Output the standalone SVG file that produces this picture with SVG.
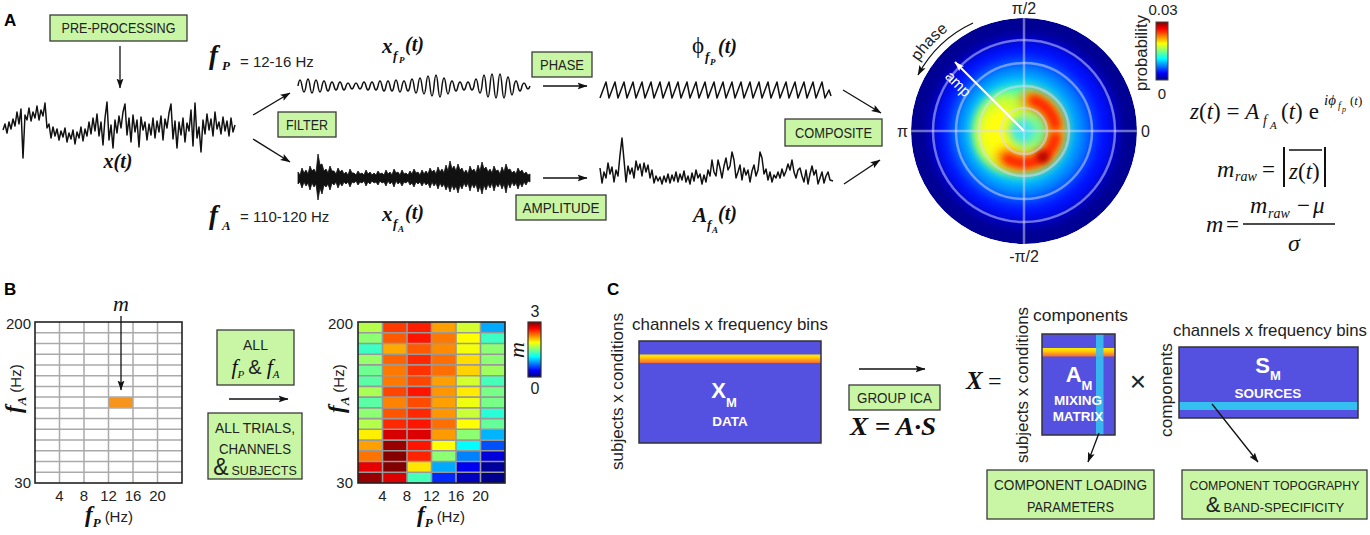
<svg xmlns="http://www.w3.org/2000/svg" width="1370" height="535" viewBox="0 0 1370 535">
<style>
.box{fill:#c9f6a4;stroke:#3a3a3a;stroke-width:1.3}
.bt{font-family:"Liberation Sans",Arial,sans-serif;fill:#222;text-anchor:middle}
.ax{font-family:"Liberation Sans",Arial,sans-serif;fill:#222}
.lab{font-family:"Liberation Sans",Arial,sans-serif;font-weight:bold;font-size:17px;fill:#000}
.mb{font-family:"Liberation Serif","Times New Roman",serif;font-weight:bold;font-style:italic;fill:#111}
.mi{font-family:"Liberation Serif","Times New Roman",serif;font-style:italic;fill:#111}
.mn{font-family:"Liberation Serif","Times New Roman",serif;fill:#111}
.ln{stroke:#111;stroke-width:1.3;fill:none}
.sig{stroke:#111;stroke-width:1.5;fill:none;stroke-linejoin:round}
.wt{font-family:"Liberation Sans",Arial,sans-serif;font-weight:bold;fill:#fff;text-anchor:middle}
.mat{fill:#5450e0;stroke:#333;stroke-width:1.5}
.grid{stroke:#aaa;stroke-width:1.5;fill:none}
.hgrid{stroke:#999;stroke-width:1.6;fill:none}
.ring{stroke:#dcdcff;stroke-opacity:0.5;stroke-width:2.5;fill:none}
</style>
<defs>
<marker id="ah" viewBox="0 0 10 8" markerWidth="10" markerHeight="8" refX="9.5" refY="4" orient="auto" markerUnits="userSpaceOnUse"><path d="M0,0.5 L10,4 L0,7.5 L2,4 z" fill="#111"/></marker>
<marker id="ahw" viewBox="0 0 10 8" markerWidth="10" markerHeight="8" refX="9.5" refY="4" orient="auto" markerUnits="userSpaceOnUse"><path d="M0,0.5 L10,4 L0,7.5 L2,4 z" fill="#fff"/></marker>
<linearGradient id="jet" x1="0" y1="0" x2="0" y2="1">
<stop offset="0" stop-color="#800000"/><stop offset="0.12" stop-color="#ff0000"/><stop offset="0.37" stop-color="#ffff00"/><stop offset="0.5" stop-color="#80ff80"/><stop offset="0.63" stop-color="#00ffff"/><stop offset="0.88" stop-color="#0000ff"/><stop offset="1" stop-color="#000080"/>
</linearGradient>
<linearGradient id="stripe" x1="0" y1="0" x2="0" y2="1">
<stop offset="0" stop-color="#ffee00"/><stop offset="0.35" stop-color="#ffd000"/><stop offset="0.65" stop-color="#ff9a20"/><stop offset="1" stop-color="#f26a3a"/>
</linearGradient>
<clipPath id="pc"><circle cx="1024" cy="131" r="113"/></clipPath>
<filter id="b7" x="-50%" y="-50%" width="200%" height="200%"><feGaussianBlur stdDeviation="7"/></filter>
<filter id="b5" x="-50%" y="-50%" width="200%" height="200%"><feGaussianBlur stdDeviation="5"/></filter>
<filter id="b3" x="-50%" y="-50%" width="200%" height="200%"><feGaussianBlur stdDeviation="3"/></filter>
</defs>
<rect x="0" y="0" width="1370" height="535" fill="#fff"/>

<!-- Panel labels -->
<text class="lab" x="4" y="26">A</text>
<text class="lab" x="4" y="295">B</text>
<text class="lab" x="607" y="295">C</text>

<!-- ================= PANEL A ================= -->
<g id="preprocessing">
<rect class="box" x="50" y="15" width="137" height="26"/>
<text class="bt" x="118.5" y="33" font-size="14" textLength="114" lengthAdjust="spacingAndGlyphs">PRE-PROCESSING</text>
</g>
<g id="signal-x">
<path class="sig" d="M3,130 L5,124 7,133 9,122 11,129 13,119 15,126 17,112 19,124 21,109 23,158 25,115 27,120 29,108 31,121 33,112 35,118 37,106 39,120 41,110 43,116 45,103 47,128 49,124 51,138 53,127 55,136 57,129 59,140 61,131 63,137 65,128 67,142 69,133 71,139 73,130 75,144 77,132 79,138 81,127 83,141 85,129 87,136 89,122 91,134 93,118 95,131 97,114 99,136 101,122 103,145 105,118 107,102 109,140 111,125 113,148 115,120 117,133 119,116 121,128 123,112 125,104 127,135 129,118 131,142 133,115 135,132 137,120 139,147 141,117 143,130 145,122 147,140 149,124 151,135 153,118 155,138 157,121 159,132 161,116 163,140 165,119 167,128 169,113 171,104 173,139 175,121 177,148 179,122 181,135 183,118 185,142 187,123 189,131 191,110 193,146 195,103 197,138 199,127 201,152 203,120 205,134 207,114 209,130 211,119 213,136 215,112 217,129 219,122 221,134 223,117 225,131 227,121 229,136 231,118 233,132 235,125"/>
<text class="mb" x="118" y="168" font-size="20" text-anchor="middle">x(t)</text>
</g>
<g id="freq-labels">
<text class="mb" x="209" y="64" font-size="27">f</text>
<text class="mb" x="222" y="70" font-size="13">P</text>
<text class="ax" x="240" y="67" font-size="15">= 12-16 Hz</text>
<text class="mb" x="209" y="224" font-size="27">f</text>
<text class="mb" x="222" y="230" font-size="13">A</text>
<text class="ax" x="240" y="222" font-size="15">= 110-120 Hz</text>
</g>
<g id="filter">
<rect class="box" x="278" y="112" width="58" height="25"/>
<text class="bt" x="307" y="130" font-size="14" textLength="42" lengthAdjust="spacingAndGlyphs">FILTER</text>
</g>
<g id="signal-xfp">
<path class="sig" d="M298,86 q2,-12 4,0 q2,12 4,0 q2,-14 4,0 q2,14 4,0 q2,-12 4,0 q2,12 4,0 q2,-10 4,0 q2,10 4,0 q2,-8 4,0 q2,8 4,0 q2,-8 4,0 q2,8 4,0 q2,-6 4,0 q2,6 4,0 q2,-6 4,0 q2,6 4,0 q2,-8 4,0 q2,8 4,0 q2,-8 4,0 q2,8 4,0 q2,-10 4,0 q2,10 4,0 q2,-10 4,0 q2,10 4,0 q2,-12 4,0 q2,12 4,0 q2,-10 4,0 q2,10 4,0 q2,-14 4,0 q2,14 4,0 q2,-16 4,0 q2,16 4,0 q2,-20 4,0 q2,20 4,0 q2,-22 4,0 q2,22 4,0 q2,-16 4,0 q2,16 4,0 q2,-10 4,0 q2,10 4,0 q2,-8 4,0 q2,8 4,0 q2,-8 4,0 q2,8 4,0 q2,-14 4,0 q2,14 4,0 q2,-22 4,0 q2,22 4,0 q2,-24 4,0 q2,24 4,0 q2,-24 4,0 q2,24 4,0 q2,-18 4,0 q2,18 4,0 q2,-10 4,0 q2,10 4,0 q2,-6 4,0 q2,6 4,0"/>
<text class="mb" x="382" y="53" font-size="21">x</text>
<text class="mb" x="393" y="60" font-size="13">f</text>
<text class="mb" x="399" y="63" font-size="9">P</text>
<text class="mb" x="405" y="51" font-size="20">(t)</text>
</g>
<g id="signal-xfa">
<path fill="#111" stroke="#111" stroke-width="0.8" stroke-linejoin="round" d="M298,172 300,175 302,168 304,173 306,170 308,174 310,166 312,171 314,169 316,173 318,154 320,165 322,164 324,171 326,169 328,173 330,166 332,171 334,171 336,174 338,168 340,172 342,170 344,174 346,172 348,175 350,169 352,173 354,173 356,175 358,171 360,174 362,173 364,175 366,170 368,174 370,172 372,175 374,173 376,175 378,171 380,174 382,173 384,175 386,170 388,174 390,172 392,175 394,169 396,173 398,172 400,175 402,170 404,174 406,173 408,175 410,171 412,174 414,169 416,173 418,172 420,175 422,170 424,174 426,171 428,174 430,168 432,172 434,170 436,174 438,167 440,172 442,169 444,173 446,165 448,171 450,161 452,169 454,166 456,171 458,164 460,170 462,168 464,173 466,170 468,174 470,166 472,171 474,169 476,173 478,165 480,171 482,162 484,169 486,167 488,172 490,169 492,173 494,166 496,171 498,170 500,174 502,167 504,172 506,164 508,170 510,169 512,173 514,171 516,174 518,168 520,172 522,170 524,174 526,172 528,175 530,174 530,182 528,181 526,185 524,182 522,187 520,183 518,189 516,183 514,186 512,182 510,188 508,183 506,193 504,184 502,189 500,183 498,187 496,184 494,191 492,183 490,188 488,184 486,190 484,185 482,194 480,186 478,192 476,184 474,188 472,184 470,191 468,183 466,187 464,183 462,189 460,185 458,193 456,186 454,190 452,185 450,192 448,185 446,190 444,184 442,187 440,183 438,189 436,183 434,186 432,182 430,188 428,183 426,185 424,182 422,186 420,182 418,184 416,182 414,187 412,183 410,185 408,181 406,183 404,182 402,186 400,182 398,184 396,181 394,187 392,182 390,184 388,181 386,186 384,182 382,183 380,181 378,185 376,182 374,183 372,181 370,184 368,182 366,186 364,181 362,183 360,182 358,185 356,181 354,183 352,182 350,187 348,182 346,184 344,182 342,186 340,183 338,188 336,182 334,185 332,183 330,190 328,184 326,187 324,185 322,194 320,188 318,200 316,184 314,187 312,183 310,190 308,183 306,186 304,182 302,188 300,182 298,184 z"/>
<text class="mb" x="382" y="221" font-size="21">x</text>
<text class="mb" x="393" y="228" font-size="13">f</text>
<text class="mb" x="398" y="232" font-size="9">A</text>
<text class="mb" x="405" y="219" font-size="20">(t)</text>
</g>
<g id="phase">
<rect class="box" x="532" y="52" width="60" height="25"/>
<text class="bt" x="562" y="70" font-size="14" textLength="44" lengthAdjust="spacingAndGlyphs">PHASE</text>
</g>
<g id="amplitude">
<rect class="box" x="516" y="195" width="90" height="25"/>
<text class="bt" x="561" y="213" font-size="14" textLength="77" lengthAdjust="spacingAndGlyphs">AMPLITUDE</text>
</g>
<g id="signal-phi">
<path class="sig" d="M600,98 l6,-16 l3,16 l6,-16 l3,16 l6,-16 l3,16 l6,-16 l3,16 l6,-16 l3,16 l6,-16 l3,16 l6,-16 l3,16 l6,-16 l3,16 l6,-16 l3,16 l6,-16 l3,16 l6,-16 l3,16 l6,-16 l3,16 l6,-16 l3,16 l6,-16 l3,16 l6,-16 l3,16 l6,-16 l3,16 l6,-16 l3,16 l6,-16 l3,16 l6,-16 l3,16 l6,-16 l3,16 l6,-16 l3,16 l6,-16 l3,16 l6,-16 l3,16 l6,-16 l3,16 l6,-16 l3,16 l4,-8 l2,6"/>
<text class="mn" x="692" y="53" font-size="23">ϕ</text>
<text class="mb" x="705" y="61" font-size="13">f</text>
<text class="mb" x="710" y="65" font-size="9">P</text>
<text class="mb" x="718" y="53" font-size="20">(t)</text>
</g>
<g id="signal-amp">
<path class="sig" d="M600,168 L602,183 604,172 606,178 608,163 610,174 612,167 614,182 616,170 618,176 620,155 622,138 624,160 626,182 628,166 630,174 632,168 634,178 636,161 638,170 640,164 642,176 644,163 646,172 648,165 650,178 652,170 654,183 656,176 658,181 660,177 662,184 664,176 666,182 668,174 670,183 672,175 674,181 676,172 678,182 680,174 682,180 684,171 686,182 688,176 690,184 692,173 694,181 696,170 698,178 700,174 702,184 704,175 706,182 708,170 710,176 712,160 714,172 716,176 718,160 720,168 722,178 724,166 726,158 728,170 730,166 732,152 734,160 736,178 738,172 740,165 742,180 744,168 746,175 748,170 750,182 752,171 754,165 756,176 758,170 760,152 762,158 764,174 766,169 768,180 770,172 772,182 774,175 776,178 778,172 780,178 782,169 784,176 786,171 788,164 790,170 792,160 794,172 796,178 798,170 800,168 802,176 804,182 806,170 808,184 810,174 812,166 814,175 816,170 818,184 820,178 822,172 824,183 826,176 828,172 830,180 833,181"/>
<text class="mb" x="693" y="222" font-size="21">A</text>
<text class="mb" x="707" y="229" font-size="13">f</text>
<text class="mb" x="712" y="233" font-size="9">A</text>
<text class="mb" x="718" y="220" font-size="20">(t)</text>
</g>
<g id="composite">
<rect class="box" x="785" y="119" width="97" height="27"/>
<text class="bt" x="833.5" y="138" font-size="14" textLength="77" lengthAdjust="spacingAndGlyphs">COMPOSITE</text>
</g>

<g id="polar-plot">
<g clip-path="url(#pc)">
<circle cx="1024" cy="131" r="113" fill="#000092"/>
<circle cx="1024" cy="131" r="92" fill="#0008ff" filter="url(#b7)"/>
<circle cx="1022" cy="131" r="72" fill="#0070ff" filter="url(#b7)"/>
<circle cx="1020" cy="131" r="58" fill="#00c4ff" filter="url(#b7)"/>
<circle cx="1020" cy="131" r="46" fill="#50ffb0" filter="url(#b5)"/>
<ellipse cx="1006" cy="132" rx="32" ry="38" fill="#c8ff38" filter="url(#b5)"/>
<ellipse cx="1001" cy="134" rx="20" ry="27" fill="#ffff10" filter="url(#b5)"/>
<path d="M1029.6,99.5 A32,32 0 1 1 1005.6,157.2" stroke="#ff9a00" stroke-width="20" fill="none" stroke-linecap="round" filter="url(#b5)"/>
<path d="M1033.9,100.6 A32,32 0 0 1 1055.3,124.3" stroke="#ff2800" stroke-width="11" fill="none" stroke-linecap="round" filter="url(#b3)"/>
<path d="M1055.3,137.7 A32,32 0 0 1 1008,158.7" stroke="#ff2800" stroke-width="11" fill="none" stroke-linecap="round" filter="url(#b3)"/>
<circle cx="1043" cy="157" r="6" fill="#b00000" filter="url(#b3)"/>
<circle cx="1023" cy="131" r="14" fill="#40e8e8" filter="url(#b5)"/>
</g>
<circle class="ring" cx="1024" cy="131" r="23"/>
<circle class="ring" cx="1024" cy="131" r="45"/>
<circle class="ring" cx="1024" cy="131" r="68"/>
<circle class="ring" cx="1024" cy="131" r="91"/>
<path class="ring" d="M911,131 H1137 M1024,18 V244"/>
<line x1="1024" y1="131" x2="955" y2="62" stroke="#fff" stroke-width="2" marker-end="url(#ahw)"/>
<text x="958" y="89" transform="rotate(45 958 84)" font-family="Liberation Sans, Arial, sans-serif" font-size="15" fill="#fff" text-anchor="middle">amp</text>
<path d="M973,23 A120,120 0 0 0 918,75" class="ln" marker-end="url(#ah)"/>
<path id="phasearc" d="M902.3,98.4 A126,126 0 0 1 1013,5.5" fill="none"/>
<text font-family="Liberation Sans, Arial, sans-serif" font-size="16" fill="#222"><textPath href="#phasearc" startOffset="62" text-anchor="middle">phase</textPath></text>
<text class="ax" x="1024" y="14" font-size="16" text-anchor="middle">π/2</text>
<text class="ax" x="1024" y="262" font-size="16" text-anchor="middle">-π/2</text>
<text class="ax" x="897" y="137" font-size="16">π</text>
<text class="ax" x="1141" y="137" font-size="16">0</text>
<rect x="1156" y="22" width="12" height="58" fill="url(#jet)" stroke="#444" stroke-width="1"/>
<text class="ax" x="1163" y="15" font-size="15" text-anchor="middle">0.03</text>
<text class="ax" x="1162" y="99" font-size="15" text-anchor="middle">0</text>
<text class="ax" transform="translate(1147,91) rotate(-90)" font-size="16" textLength="76" lengthAdjust="spacingAndGlyphs">probability</text>
</g>

<g id="formulas">
<text class="mn" x="1190" y="119" font-size="23"><tspan class="mi">z</tspan>(<tspan class="mi">t</tspan>) = <tspan class="mi">A</tspan></text>
<text class="mi" x="1263" y="125" font-size="14">f</text>
<text class="mi" x="1270" y="129" font-size="11">A</text>
<text class="mn" x="1281" y="119" font-size="23">(<tspan class="mi">t</tspan>)<tspan dx="6">e</tspan></text>
<text class="mi" x="1324" y="105" font-size="15">iϕ</text>
<text class="mi" x="1338" y="109" font-size="10">f</text>
<text class="mi" x="1342" y="112" font-size="8">p</text>
<text class="mn" x="1350" y="105" font-size="13">(<tspan class="mi">t</tspan>)</text>
<text class="mi" x="1217" y="177" font-size="24">m</text>
<text class="mi" x="1235" y="181" font-size="14">raw</text>
<text class="mn" x="1262" y="177" font-size="23">=</text>
<path d="M1284,147 V187 M1325,147 V187" stroke="#111" stroke-width="2" fill="none"/>
<path d="M1289,150 H1322" stroke="#111" stroke-width="1.4" fill="none"/>
<text class="mn" x="1289" y="179" font-size="23"><tspan class="mi">z</tspan>(<tspan class="mi">t</tspan>)</text>
<text class="mi" x="1206" y="232" font-size="24">m</text>
<text class="mn" x="1226" y="232" font-size="23">=</text>
<path d="M1243,224 H1335" stroke="#111" stroke-width="1.5" fill="none"/>
<text class="mi" x="1250" y="213" font-size="24">m</text>
<text class="mi" x="1268" y="218" font-size="14">raw</text>
<text class="mn" x="1297" y="213" font-size="23">−</text>
<text class="mi" x="1313" y="213" font-size="23">μ</text>
<text class="mi" x="1288" y="251" font-size="24">σ</text>
</g>

<!-- ================= PANEL B ================= -->
<g id="grid-single">
<rect x="35" y="322" width="147" height="161" fill="#fff"/>
<rect x="108.5" y="397.1" width="24.5" height="10.8" fill="#f7941d"/>
<path class="grid" d="M35,332.7H182 M35,343.5H182 M35,354.2H182 M35,364.9H182 M35,375.7H182 M35,386.4H182 M35,397.1H182 M35,407.9H182 M35,418.6H182 M35,429.3H182 M35,440.1H182 M35,450.8H182 M35,461.5H182 M35,472.3H182 M59.5,322V483 M84,322V483 M108.5,322V483 M133,322V483 M157.5,322V483"/>
<rect x="35" y="322" width="147" height="161" fill="none" stroke="#222" stroke-width="1.6"/>
<text class="mi" x="121" y="311" font-size="22" text-anchor="middle">m</text>
<text class="ax" x="31" y="329" font-size="15" text-anchor="end">200</text>
<text class="ax" x="31" y="488" font-size="15" text-anchor="end">30</text>
<g class="ax" font-size="15" text-anchor="middle">
<text x="59.5" y="501">4</text><text x="84" y="501">8</text><text x="108.5" y="501">12</text><text x="133" y="501">16</text><text x="157.5" y="501">20</text>
</g>
<text x="85" y="522"><tspan class="mb" font-size="23">f</tspan><tspan class="mb" font-size="13" dy="5">P</tspan><tspan class="ax" font-size="15" dy="-5" dx="4">(Hz)</tspan></text>
<text transform="translate(21,413) rotate(-90)"><tspan class="mb" font-size="23">f</tspan><tspan class="mb" font-size="13" dy="5">A</tspan><tspan class="ax" font-size="15" dy="-5" dx="4">(Hz)</tspan></text>
</g>
<g id="all-fp-fa">
<rect class="box" x="217" y="330" width="77" height="55"/>
<text class="bt" x="255.5" y="350" font-size="14">ALL</text>
<text class="bt" x="255.5" y="374" font-size="14"><tspan class="mi" font-size="22">f</tspan><tspan class="mi" font-size="11" dy="4">P</tspan><tspan font-size="20" dy="-4" dx="4">&amp;</tspan><tspan class="mi" font-size="22" dx="5">f</tspan><tspan class="mi" font-size="11" dy="4">A</tspan></text>
</g>
<g id="all-trials">
<rect class="box" x="208" y="413" width="94" height="66"/>
<text class="bt" x="255" y="433" font-size="14" textLength="80" lengthAdjust="spacingAndGlyphs">ALL TRIALS,</text>
<text class="bt" x="255" y="454" font-size="14" textLength="72" lengthAdjust="spacingAndGlyphs">CHANNELS</text>
<text class="bt" x="255" y="475" font-size="14"><tspan font-size="23">&amp;</tspan><tspan font-size="12.5" dx="3">SUBJECTS</tspan></text>
</g>
<g id="heatmap">
<rect x="358" y="322" width="24.5" height="10.8" fill="#b5ff4a"/><rect x="382.5" y="322" width="24.5" height="10.8" fill="#ff3c00"/><rect x="407" y="322" width="24.5" height="10.8" fill="#ff1e00"/><rect x="431.5" y="322" width="24.5" height="10.8" fill="#ffa000"/><rect x="456" y="322" width="24.5" height="10.8" fill="#d2ff2d"/><rect x="480.5" y="322" width="24.5" height="10.8" fill="#00aaff"/>
<rect x="358" y="332.7" width="24.5" height="10.8" fill="#8cff73"/><rect x="382.5" y="332.7" width="24.5" height="10.8" fill="#ff5a00"/><rect x="407" y="332.7" width="24.5" height="10.8" fill="#ff1400"/><rect x="431.5" y="332.7" width="24.5" height="10.8" fill="#ff7800"/><rect x="456" y="332.7" width="24.5" height="10.8" fill="#ffff00"/><rect x="480.5" y="332.7" width="24.5" height="10.8" fill="#3cffc3"/>
<rect x="358" y="343.5" width="24.5" height="10.8" fill="#3cffc3"/><rect x="382.5" y="343.5" width="24.5" height="10.8" fill="#ffaa00"/><rect x="407" y="343.5" width="24.5" height="10.8" fill="#ff5a00"/><rect x="431.5" y="343.5" width="24.5" height="10.8" fill="#ff8c00"/><rect x="456" y="343.5" width="24.5" height="10.8" fill="#f5ff0a"/><rect x="480.5" y="343.5" width="24.5" height="10.8" fill="#8cff73"/>
<rect x="358" y="354.2" width="24.5" height="10.8" fill="#96ff69"/><rect x="382.5" y="354.2" width="24.5" height="10.8" fill="#ff6400"/><rect x="407" y="354.2" width="24.5" height="10.8" fill="#ff2800"/><rect x="431.5" y="354.2" width="24.5" height="10.8" fill="#ff6e00"/><rect x="456" y="354.2" width="24.5" height="10.8" fill="#ffdc00"/><rect x="480.5" y="354.2" width="24.5" height="10.8" fill="#8cff73"/>
<rect x="358" y="364.9" width="24.5" height="10.8" fill="#6eff91"/><rect x="382.5" y="364.9" width="24.5" height="10.8" fill="#ff7800"/><rect x="407" y="364.9" width="24.5" height="10.8" fill="#ff3200"/><rect x="431.5" y="364.9" width="24.5" height="10.8" fill="#ff6e00"/><rect x="456" y="364.9" width="24.5" height="10.8" fill="#ffd200"/><rect x="480.5" y="364.9" width="24.5" height="10.8" fill="#a0ff5f"/>
<rect x="358" y="375.7" width="24.5" height="10.8" fill="#5affa5"/><rect x="382.5" y="375.7" width="24.5" height="10.8" fill="#ff7800"/><rect x="407" y="375.7" width="24.5" height="10.8" fill="#ff4600"/><rect x="431.5" y="375.7" width="24.5" height="10.8" fill="#ffa000"/><rect x="456" y="375.7" width="24.5" height="10.8" fill="#d2ff2d"/><rect x="480.5" y="375.7" width="24.5" height="10.8" fill="#46ffb9"/>
<rect x="358" y="386.4" width="24.5" height="10.8" fill="#aaff55"/><rect x="382.5" y="386.4" width="24.5" height="10.8" fill="#ff4600"/><rect x="407" y="386.4" width="24.5" height="10.8" fill="#ff1400"/><rect x="431.5" y="386.4" width="24.5" height="10.8" fill="#ff9600"/><rect x="456" y="386.4" width="24.5" height="10.8" fill="#ffeb00"/><rect x="480.5" y="386.4" width="24.5" height="10.8" fill="#78ff87"/>
<rect x="358" y="397.1" width="24.5" height="10.8" fill="#5affa5"/><rect x="382.5" y="397.1" width="24.5" height="10.8" fill="#ff8200"/><rect x="407" y="397.1" width="24.5" height="10.8" fill="#ff4b00"/><rect x="431.5" y="397.1" width="24.5" height="10.8" fill="#ffa000"/><rect x="456" y="397.1" width="24.5" height="10.8" fill="#f0ff0f"/><rect x="480.5" y="397.1" width="24.5" height="10.8" fill="#78ff87"/>
<rect x="358" y="407.9" width="24.5" height="10.8" fill="#8cff73"/><rect x="382.5" y="407.9" width="24.5" height="10.8" fill="#ff5500"/><rect x="407" y="407.9" width="24.5" height="10.8" fill="#ff2800"/><rect x="431.5" y="407.9" width="24.5" height="10.8" fill="#ff9600"/><rect x="456" y="407.9" width="24.5" height="10.8" fill="#c8ff37"/><rect x="480.5" y="407.9" width="24.5" height="10.8" fill="#28ffd7"/>
<rect x="358" y="418.6" width="24.5" height="10.8" fill="#b4ff4b"/><rect x="382.5" y="418.6" width="24.5" height="10.8" fill="#ff2800"/><rect x="407" y="418.6" width="24.5" height="10.8" fill="#ff1400"/><rect x="431.5" y="418.6" width="24.5" height="10.8" fill="#ff6e00"/><rect x="456" y="418.6" width="24.5" height="10.8" fill="#ffff00"/><rect x="480.5" y="418.6" width="24.5" height="10.8" fill="#64ff9b"/>
<rect x="358" y="429.3" width="24.5" height="10.8" fill="#fff000"/><rect x="382.5" y="429.3" width="24.5" height="10.8" fill="#d70000"/><rect x="407" y="429.3" width="24.5" height="10.8" fill="#dc0000"/><rect x="431.5" y="429.3" width="24.5" height="10.8" fill="#ff9b00"/><rect x="456" y="429.3" width="24.5" height="10.8" fill="#8cff73"/><rect x="480.5" y="429.3" width="24.5" height="10.8" fill="#00b4ff"/>
<rect x="358" y="440.1" width="24.5" height="10.8" fill="#ffa000"/><rect x="382.5" y="440.1" width="24.5" height="10.8" fill="#9b0000"/><rect x="407" y="440.1" width="24.5" height="10.8" fill="#ff1400"/><rect x="431.5" y="440.1" width="24.5" height="10.8" fill="#ffff00"/><rect x="456" y="440.1" width="24.5" height="10.8" fill="#00ffff"/><rect x="480.5" y="440.1" width="24.5" height="10.8" fill="#0050ff"/>
<rect x="358" y="450.8" width="24.5" height="10.8" fill="#ff7300"/><rect x="382.5" y="450.8" width="24.5" height="10.8" fill="#870000"/><rect x="407" y="450.8" width="24.5" height="10.8" fill="#ff2300"/><rect x="431.5" y="450.8" width="24.5" height="10.8" fill="#8cff73"/><rect x="456" y="450.8" width="24.5" height="10.8" fill="#0082ff"/><rect x="480.5" y="450.8" width="24.5" height="10.8" fill="#0000dc"/>
<rect x="358" y="461.5" width="24.5" height="10.8" fill="#e60000"/><rect x="382.5" y="461.5" width="24.5" height="10.8" fill="#820000"/><rect x="407" y="461.5" width="24.5" height="10.8" fill="#ffe600"/><rect x="431.5" y="461.5" width="24.5" height="10.8" fill="#00aaff"/><rect x="456" y="461.5" width="24.5" height="10.8" fill="#0000f0"/><rect x="480.5" y="461.5" width="24.5" height="10.8" fill="#00009b"/>
<rect x="358" y="472.3" width="24.5" height="10.7" fill="#960000"/><rect x="382.5" y="472.3" width="24.5" height="10.7" fill="#dc0000"/><rect x="407" y="472.3" width="24.5" height="10.7" fill="#46ffb9"/><rect x="431.5" y="472.3" width="24.5" height="10.7" fill="#0028ff"/><rect x="456" y="472.3" width="24.5" height="10.7" fill="#0000be"/><rect x="480.5" y="472.3" width="24.5" height="10.7" fill="#00008c"/>
<path class="hgrid" d="M358,332.7H505 M358,343.5H505 M358,354.2H505 M358,364.9H505 M358,375.7H505 M358,386.4H505 M358,397.1H505 M358,407.9H505 M358,418.6H505 M358,429.3H505 M358,440.1H505 M358,450.8H505 M358,461.5H505 M358,472.3H505 M382.5,322V483 M407,322V483 M431.5,322V483 M456,322V483 M480.5,322V483"/>
<rect x="358" y="322" width="147" height="161" fill="none" stroke="#222" stroke-width="1.6"/>
<text class="ax" x="353" y="329" font-size="15" text-anchor="end">200</text>
<text class="ax" x="353" y="488" font-size="15" text-anchor="end">30</text>
<g class="ax" font-size="15" text-anchor="middle">
<text x="382.5" y="501">4</text><text x="407" y="501">8</text><text x="431.5" y="501">12</text><text x="456" y="501">16</text><text x="480.5" y="501">20</text>
</g>
<text x="417" y="522"><tspan class="mb" font-size="23">f</tspan><tspan class="mb" font-size="13" dy="5">P</tspan><tspan class="ax" font-size="15" dy="-5" dx="4">(Hz)</tspan></text>
<text transform="translate(344,413) rotate(-90)"><tspan class="mb" font-size="23">f</tspan><tspan class="mb" font-size="13" dy="5">A</tspan><tspan class="ax" font-size="15" dy="-5" dx="4">(Hz)</tspan></text>
<rect x="528" y="322" width="13" height="55" fill="url(#jet)" stroke="#333" stroke-width="1.2"/>
<text class="ax" x="535" y="317" font-size="16" text-anchor="middle">3</text>
<text class="ax" x="535" y="394" font-size="16" text-anchor="middle">0</text>
<text class="mi" transform="translate(524,358) rotate(-90)" font-size="22">m</text>
</g>

<!-- ================= PANEL C ================= -->
<g id="data-matrix">
<text class="ax" x="632" y="330" font-size="17" textLength="196" lengthAdjust="spacingAndGlyphs">channels x frequency bins</text>
<text class="ax" transform="translate(623,470) rotate(-90)" font-size="17" textLength="157" lengthAdjust="spacingAndGlyphs">subjects x conditions</text>
<rect class="mat" x="639" y="341" width="182" height="102"/>
<rect x="639.8" y="354.5" width="180.4" height="8.5" fill="url(#stripe)"/>
<text class="wt" x="724" y="398" font-size="22">X<tspan font-size="13" dy="9">M</tspan></text>
<text class="wt" x="730" y="426" font-size="13.5">DATA</text>
</g>
<g id="group-ica">
<rect class="box" x="849" y="385" width="91" height="25"/>
<text class="bt" x="894.5" y="403" font-size="14" textLength="75" lengthAdjust="spacingAndGlyphs">GROUP ICA</text>
<text class="mb" x="850" y="435" font-size="26" textLength="86" lengthAdjust="spacingAndGlyphs">X = A·S</text>
</g>
<g id="mixing-matrix">
<text class="mb" x="966" y="389" font-size="25">X</text>
<text class="mn" x="988" y="389" font-size="24">=</text>
<text class="ax" transform="translate(1028,463) rotate(-90)" font-size="17" textLength="156" lengthAdjust="spacingAndGlyphs">subjects x conditions</text>
<text class="ax" x="1033" y="321" font-size="17" textLength="95" lengthAdjust="spacingAndGlyphs">components</text>
<rect class="mat" x="1042" y="334" width="73" height="101"/>
<rect x="1042.8" y="348" width="71.4" height="8.5" fill="url(#stripe)"/>
<rect x="1096" y="334.8" width="7.5" height="99.4" fill="#35bff0" fill-opacity="0.9"/>
<text class="wt" x="1079" y="382" font-size="22">A<tspan font-size="13" dy="8">M</tspan></text>
<text class="wt" x="1078" y="405" font-size="13.5">MIXING</text>
<text class="wt" x="1078" y="421" font-size="13.5">MATRIX</text>
</g>
<text class="ax" x="1138" y="391" font-size="28" text-anchor="middle">×</text>
<g id="sources-matrix">
<text class="ax" x="1173" y="336" font-size="17" textLength="194" lengthAdjust="spacingAndGlyphs">channels x frequency bins</text>
<text class="ax" transform="translate(1172,437) rotate(-90)" font-size="17" textLength="94" lengthAdjust="spacingAndGlyphs">components</text>
<rect class="mat" x="1179" y="347" width="179" height="71"/>
<rect x="1179.8" y="402" width="177.4" height="8" fill="#35bff0"/>
<text class="wt" x="1268" y="373" font-size="22">S<tspan font-size="13" dy="7">M</tspan></text>
<text class="wt" x="1268" y="398" font-size="13.5">SOURCES</text>
</g>
<g id="loading-params">
<rect class="box" x="987" y="470" width="167" height="49"/>
<text class="bt" x="1070.5" y="490" font-size="14" textLength="153" lengthAdjust="spacingAndGlyphs">COMPONENT LOADING</text>
<text class="bt" x="1070.5" y="512" font-size="14" textLength="87" lengthAdjust="spacingAndGlyphs">PARAMETERS</text>
</g>
<g id="topography">
<rect class="box" x="1182" y="470" width="185" height="49"/>
<text class="bt" x="1274.5" y="490" font-size="13" textLength="170" lengthAdjust="spacingAndGlyphs">COMPONENT TOPOGRAPHY</text>
<text class="bt" x="1275" y="512" font-size="13"><tspan font-size="22">&amp;</tspan><tspan font-size="13" dx="3">BAND-SPECIFICITY</tspan></text>
</g>

<!-- ================= CONNECTORS ================= -->
<g id="connectors">
<line class="ln" x1="120" y1="46" x2="120" y2="88" marker-end="url(#ah)"/>
<line class="ln" x1="253" y1="115" x2="290" y2="93" marker-end="url(#ah)"/>
<line class="ln" x1="253" y1="139" x2="290" y2="162" marker-end="url(#ah)"/>
<line class="ln" x1="543" y1="86" x2="587" y2="86" marker-end="url(#ah)"/>
<line class="ln" x1="543" y1="178" x2="587" y2="178" marker-end="url(#ah)"/>
<line class="ln" x1="843" y1="90" x2="881" y2="113" marker-end="url(#ah)"/>
<line class="ln" x1="844" y1="184" x2="880" y2="160" marker-end="url(#ah)"/>
<line class="ln" x1="121" y1="316" x2="121" y2="390" marker-end="url(#ah)"/>
<line class="ln" x1="229" y1="399" x2="288" y2="399" marker-end="url(#ah)"/>
<line class="ln" x1="859" y1="369" x2="925" y2="369" marker-end="url(#ah)"/>
<line class="ln" x1="1099" y1="433" x2="1088" y2="462" marker-end="url(#ah)"/>
<line class="ln" x1="1212" y1="404" x2="1258" y2="462" marker-end="url(#ah)"/>
</g>
</svg>
